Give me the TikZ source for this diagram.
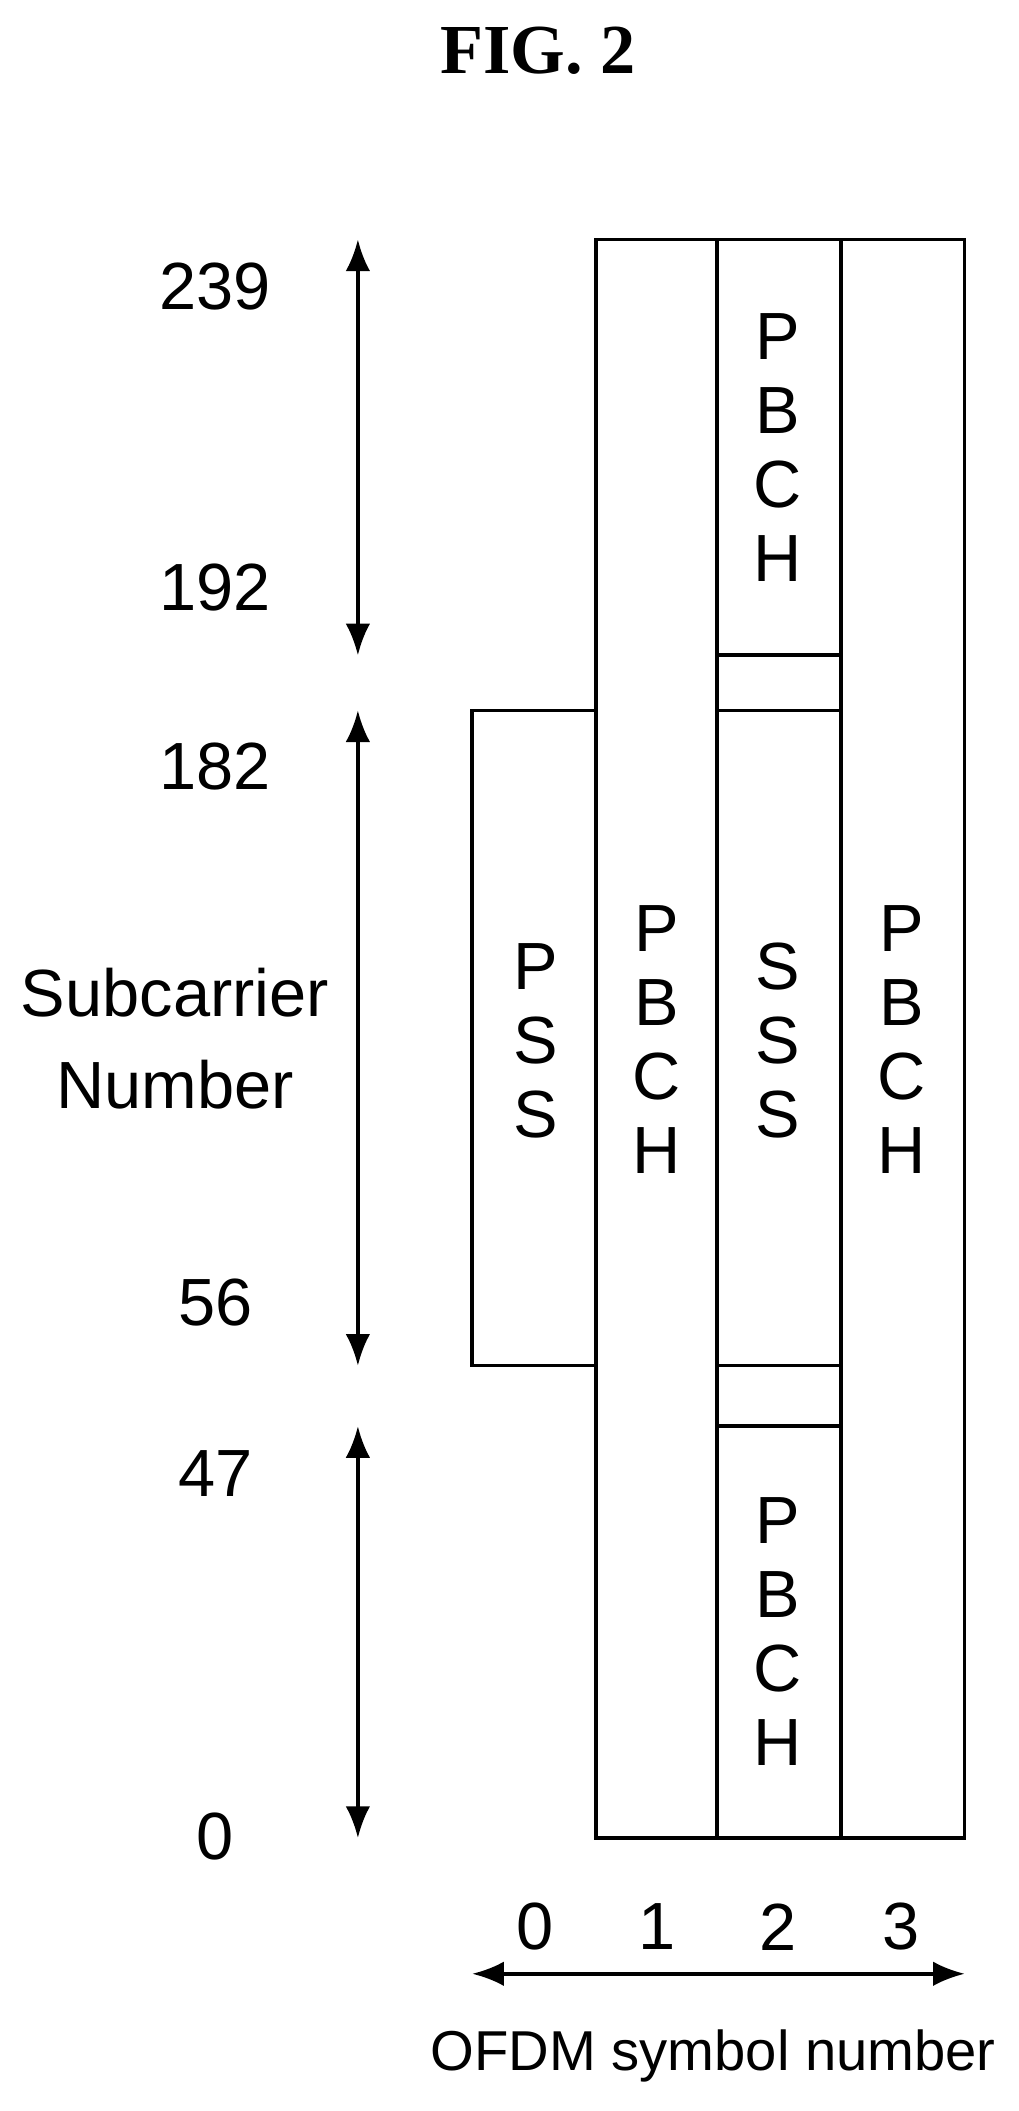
\documentclass[tikz,border=0pt]{standalone}
\usepackage{fontspec}
\setmainfont{Liberation Sans}
\newfontfamily\titlefont{Liberation Serif}
\usetikzlibrary{arrows.meta}

\tikzset{
	lbl/.style={font=\fontsize{19}{22}\selectfont},
	box/.style={draw, line width=1pt},
	dim/.style={line width=1pt, {Latex[length=9pt,width=7pt]}-{Latex[length=9pt,width=7pt]}}
}

\begin{document}
\begin{tikzpicture}[x=0.01346cm, y=-0.01346cm]

	\useasboundingbox (0,0) rectangle (757,1569);

% Title.

	\node[font=\titlefont\bfseries\fontsize{20}{24}\selectfont] (title) at (400,38) {FIG. 2};

% Define coordinates.

	%grid corners
	\coordinate (c1t) at (443,178);
	\coordinate (c1b) at (533,1366);
	\coordinate (c2t) at (533,178);
	\coordinate (c2b) at (625,1366);
	\coordinate (c3t) at (625,178);
	\coordinate (c3b) at (717,1366);

	%dimension arrows
	\coordinate (a239) at (266,178);
	\coordinate (a192) at (266,487);
	\coordinate (a182) at (266,528);
	\coordinate (a56) at (266,1015);
	\coordinate (a47) at (266,1060);
	\coordinate (a0) at (266,1366);
	\coordinate (symL) at (351,1467);
	\coordinate (symR) at (717,1467);

% Draw boxes.

	\draw[box] (351,528) rectangle (443,1015);
	\draw[box] (c1t) rectangle (c1b);
	\draw[box] (c2t) rectangle (c2b);
	\draw[box] (c3t) rectangle (c3b);
	\draw[box] (533,487) -- (625,487);
	\draw[box] (533,528) -- (625,528);
	\draw[box] (533,1015) -- (625,1015);
	\draw[box] (533,1060) -- (625,1060);

% Draw box labels.

	\foreach \t [count=\i] in {P,B,C,H}
		\node[lbl] at (578,195+55*\i) {\t};
	\foreach \t [count=\i] in {P,B,C,H}
		\node[lbl] at (578,1075+55*\i) {\t};
	\foreach \t [count=\i] in {P,B,C,H}
		\node[lbl] at (488,635+55*\i) {\t};
	\foreach \t [count=\i] in {P,B,C,H}
		\node[lbl] at (670,635+55*\i) {\t};
	\foreach \t [count=\i] in {P,S,S}
		\node[lbl] at (398,663+55*\i) {\t};
	\foreach \t [count=\i] in {S,S,S}
		\node[lbl] at (578,663+55*\i) {\t};

% Draw dimension arrows.

	\draw[dim] (a239) -- (a192);
	\draw[dim] (a182) -- (a56);
	\draw[dim] (a47) -- (a0);
	\draw[dim] (symL) -- (symR);

% Draw axis labels.

	\node[lbl] (n239) at (160,213) {239};
	\node[lbl] (n192) at (160,437) {192};
	\node[lbl] (n182) at (160,570) {182};
	\node[lbl] (n56) at (160,968) {56};
	\node[lbl] (n47) at (160,1095) {47};
	\node[lbl] (n0) at (160,1365) {0};
	\node[lbl, align=center] (sub) at (130,772) {Subcarrier\\[4pt]Number};
	\foreach \s [count=\i from 0] in {398,488,578,670}
		\node[lbl] (s\i) at (\s,1432) {\i};
	\node[font=\fontsize{16}{19}\selectfont] (ofdm) at (530,1528) {OFDM symbol number};

\end{tikzpicture}
\end{document}
